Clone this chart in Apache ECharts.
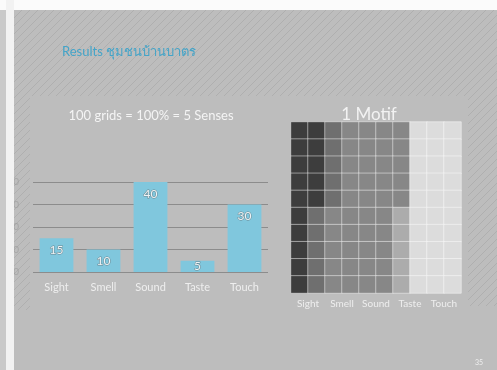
<!DOCTYPE html>
<html>
<head>
<meta charset="utf-8">
<script src="https://cdn.jsdelivr.net/npm/echarts@6/dist/echarts.min.js"></script>
<style>
  html, body { margin: 0; padding: 0; background: #ffffff; }
  #chart { width: 497px; height: 370px; }
</style>
</head>
<body>
<div id="chart"></div>
<script>
// Share of each sense in one motif (100 grid cells)
const senses = ['Sight', 'Smell', 'Sound', 'Taste', 'Touch'];
const senseCounts = [15, 10, 40, 5, 30];
const yTicks = [0, 10, 20, 30, 40];

// Motif layout: each row lists the sense index of its 10 cells, top row first
const motifRows = [
  [0, 0, 1, 2, 2, 2, 2, 4, 4, 4],
  [0, 0, 1, 2, 2, 2, 2, 4, 4, 4],
  [0, 0, 1, 2, 2, 2, 2, 4, 4, 4],
  [0, 0, 1, 2, 2, 2, 2, 4, 4, 4],
  [0, 0, 1, 2, 2, 2, 2, 4, 4, 4],
  [0, 1, 2, 2, 2, 2, 3, 4, 4, 4],
  [0, 1, 2, 2, 2, 2, 3, 4, 4, 4],
  [0, 1, 2, 2, 2, 2, 3, 4, 4, 4],
  [0, 1, 2, 2, 2, 2, 3, 4, 4, 4],
  [0, 1, 2, 2, 2, 2, 3, 4, 4, 4]
];
const senseShades = ['#3d3d3d', '#6f6f6f', '#878787', '#acacac', '#dcdcdc'];

const colIdx = motifRows[0].map((_, i) => String(i));
const rowIdx = motifRows.map((_, i) => String(i));
const cells = [];
motifRows.forEach((row, r) => row.forEach((s, c) => cells.push([c, r, s])));

// Short bars cannot hold their label below the top edge, so centre it instead
const barData = senseCounts.map(v => (v < 8 ? { value: v, label: { position: 'inside' } } : v));

// Diagonal hatching used on the slide background
function hatchPattern() {
  const c = document.createElement('canvas');
  c.width = 8; c.height = 8;
  const g = c.getContext('2d');
  g.strokeStyle = 'rgba(150,150,150,0.35)';
  g.lineWidth = 1;
  g.beginPath();
  g.moveTo(0, 8); g.lineTo(8, 0);
  g.moveTo(-4, 4); g.lineTo(4, -4);
  g.moveTo(4, 12); g.lineTo(12, 4);
  g.stroke();
  return { image: c, repeat: 'repeat' };
}
const hatch = hatchPattern();

const font = 'Lato, "Noto Sans", sans-serif';
const chart = echarts.init(document.getElementById('chart'));

chart.setOption({
  backgroundColor: '#bdbdbd',
  animation: false,
  textStyle: { fontFamily: font },
  title: [
    { text: 'Results ชุมชนบ้านบาตร', left: 57, top: 40,
      textStyle: { color: '#44a4c8', fontSize: 13, fontWeight: 'normal', fontFamily: font } },
    { text: '100 grids = 100% = 5 Senses', left: 146, top: 104, textAlign: 'center',
      textStyle: { color: '#f4f4f4', fontSize: 13, fontWeight: 'normal', fontFamily: font } },
    { text: '1 Motif', left: 364, top: 101, textAlign: 'center',
      textStyle: { color: '#f2f2f2', fontSize: 17, fontWeight: 'normal', fontFamily: font } }
  ],
  graphic: [
    { type: 'rect', z: -5, shape: { x: 14, y: 10, width: 483, height: 86 }, style: { fill: hatch } },
    { type: 'rect', z: -5, shape: { x: 14, y: 96, width: 16, height: 214 }, style: { fill: hatch } },
    { type: 'rect', z: -5, shape: { x: 468, y: 96, width: 29, height: 210 }, style: { fill: hatch } },
    { type: 'rect', z: 100, shape: { x: 0, y: 0, width: 497, height: 10 }, style: { fill: '#fbfbfb' } },
    { type: 'rect', z: 100, shape: { x: 6, y: 0, width: 8, height: 370 }, style: { fill: '#f2f2f2' } },
    { type: 'rect', z: 100, shape: { x: 0, y: 10, width: 6, height: 360 }, style: { fill: '#c9c9c9' } },
    { type: 'text', z: 100, left: 475, top: 359,
      style: { text: '35', fill: 'rgba(255,255,255,0.75)', font: '7px ' + font } }
  ],
  grid: [
    { left: 33, width: 235, top: 182, height: 90 },
    { left: 291, width: 170, top: 122, height: 171 }
  ],
  xAxis: [
    { type: 'category', gridIndex: 0, data: senses,
      axisLine: { show: false }, axisTick: { show: false },
      axisLabel: { color: '#eeeeee', fontSize: 11, margin: 10, fontFamily: font } },
    { type: 'category', gridIndex: 1, data: colIdx, show: false },
    { type: 'category', gridIndex: 1, data: senses, position: 'bottom',
      axisLine: { show: false }, axisTick: { show: false },
      axisLabel: { color: '#eeeeee', fontSize: 10, margin: 6, interval: 0, fontFamily: font } }
  ],
  yAxis: [
    { type: 'value', gridIndex: 0, min: 0, max: 40, interval: 10,
      axisLine: { show: false }, axisTick: { show: false },
      axisLabel: { color: 'rgba(150,150,150,0.6)', fontSize: 10, margin: 14,
        formatter: v => (yTicks.includes(v) ? String(v) : '') },
      splitLine: { lineStyle: { color: '#8c8c8c', width: 1 } } },
    { type: 'category', gridIndex: 1, data: rowIdx, inverse: true, show: false }
  ],
  visualMap: {
    type: 'piecewise', show: false, seriesIndex: 1, dimension: 2,
    pieces: senseShades.map((c, i) => ({ value: i, color: c }))
  },
  series: [
    { type: 'bar', xAxisIndex: 0, yAxisIndex: 0, data: barData,
      barWidth: '72%',
      itemStyle: { color: '#80c7dd' },
      label: { show: true, position: 'insideTop', distance: 6,
        color: '#eef3f5', fontSize: 12, fontFamily: font,
        textBorderColor: 'rgba(95,110,115,0.7)', textBorderWidth: 1 } },
    { type: 'heatmap', xAxisIndex: 1, yAxisIndex: 1, data: cells,
      itemStyle: { borderColor: 'rgba(255,255,255,0.45)', borderWidth: 1 } }
  ]
});
</script>
</body>
</html>
